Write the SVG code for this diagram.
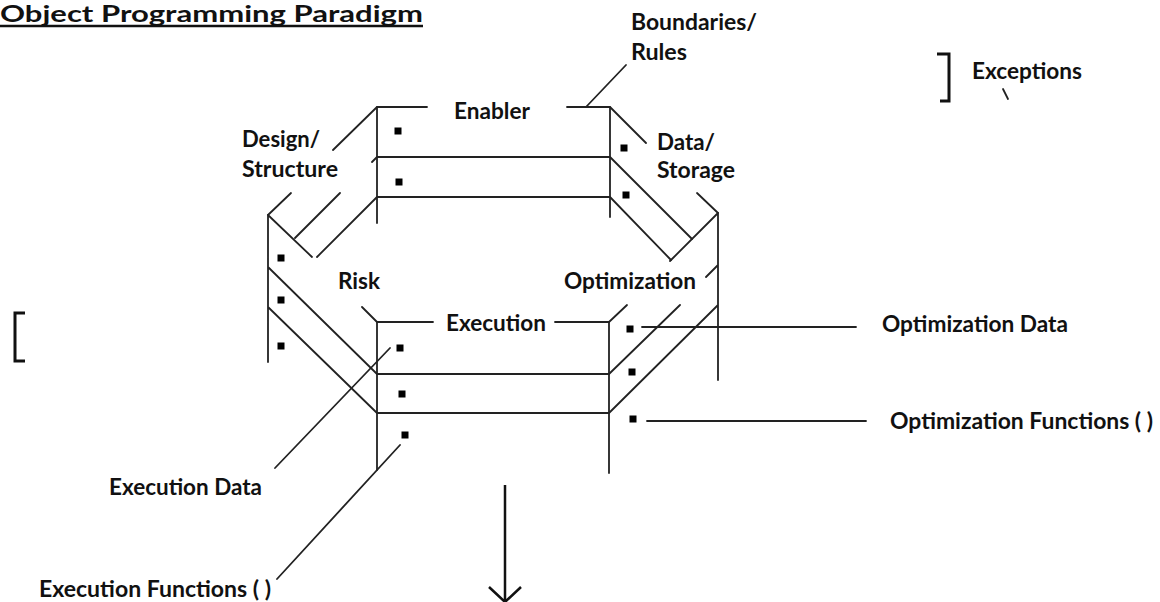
<svg xmlns="http://www.w3.org/2000/svg" width="1160" height="602" viewBox="0 0 1160 602">
<style>
.ln{stroke:#222;stroke-width:1.8;fill:none;stroke-linecap:round}
.th{stroke:#111;stroke-width:3;fill:none}
.dot{fill:#000}
text{font-family:Lato,"Noto Sans","Liberation Sans",sans-serif;font-weight:bold;font-size:22px;fill:#111}
</style>
<rect width="1160" height="602" fill="#fff"/>
<g id="title">
<text x="0" y="22" font-size="22" textLength="423" lengthAdjust="spacingAndGlyphs">Object Programming Paradigm</text>
<line x1="0" y1="26" x2="423" y2="26" stroke="#111" stroke-width="2.5"/>
</g>
<g id="enabler">
<path class="ln" d="M377,107H427M567,107H610M377,157H610M377,197H610M377,107V223M610,107V217"/>
<text x="454" y="119" textLength="76" lengthAdjust="spacingAndGlyphs">Enabler</text>
<rect class="dot" x="394.5" y="127.5" width="7" height="7"/>
<rect class="dot" x="395.5" y="178.5" width="7" height="7"/>
</g>
<g id="boundaries">
<text x="631" y="30" textLength="126" lengthAdjust="spacingAndGlyphs">Boundaries/</text>
<text x="631" y="60" textLength="56" lengthAdjust="spacingAndGlyphs">Rules</text>
</g>
<g id="design">
<path class="ln" d="M377,107L333,150M291,193L268,215M377,157L372,162M340,193L295,238M377,197L317,257"/>
<text x="242" y="147" textLength="78" lengthAdjust="spacingAndGlyphs">Design/</text>
<text x="242" y="177" textLength="96" lengthAdjust="spacingAndGlyphs">Structure</text>
</g>
<g id="risk">
<path class="ln" d="M268,215V362M268,215L312,257M362,307L377,322M268,267L377,374M268,307L377,413"/>
<text x="338" y="289" textLength="42" lengthAdjust="spacingAndGlyphs">Risk</text>
<rect class="dot" x="277.5" y="254.5" width="7" height="7"/>
<rect class="dot" x="277.5" y="296.5" width="7" height="7"/>
<rect class="dot" x="277.5" y="342.5" width="7" height="7"/>
</g>
<g id="execution">
<path class="ln" d="M377,322H433M555,322H609M377,374H609M377,413H609M377,322V470M609,322V473"/>
<text x="446" y="331" textLength="100" lengthAdjust="spacingAndGlyphs">Execution</text>
<rect class="dot" x="396.5" y="344.5" width="7" height="7"/>
<rect class="dot" x="398.5" y="390.5" width="7" height="7"/>
<rect class="dot" x="401.5" y="431.5" width="7" height="7"/>
</g>
<g id="data">
<path class="ln" d="M610,107L646,143M697,193L718,213M610,157L692,239M610,197L671,260"/>
<text x="657" y="150" textLength="58" lengthAdjust="spacingAndGlyphs">Data/</text>
<text x="657" y="178" textLength="78" lengthAdjust="spacingAndGlyphs">Storage</text>
<rect class="dot" x="620.5" y="144.5" width="7" height="7"/>
<rect class="dot" x="622.5" y="191.5" width="7" height="7"/>
</g>
<g id="optimization">
<path class="ln" d="M718,213V380M609,322L627,305M670,261L718,213M609,374L680,305M706,277L718,265M609,413L718,305"/>
<text x="564" y="289" textLength="132" lengthAdjust="spacingAndGlyphs">Optimization</text>
<rect class="dot" x="626.5" y="325.5" width="7" height="7"/>
<rect class="dot" x="628.5" y="368.5" width="7" height="7"/>
<rect class="dot" x="629.5" y="415.5" width="7" height="7"/>
</g>
<g id="exceptions">
<polyline class="th" points="937,54 949,54 949,101 940,101"/>
<text x="972" y="79" textLength="110" lengthAdjust="spacingAndGlyphs">Exceptions</text>
<line class="ln" x1="1003" y1="89" x2="1008" y2="99"/>
</g>
<g id="left-bracket">
<polyline class="th" points="25,313 15,313 15,361 25,361"/>
</g>
<g id="labels">
<text x="882" y="332" textLength="186" lengthAdjust="spacingAndGlyphs">Optimization Data</text>
<text x="890" y="429" textLength="263" lengthAdjust="spacingAndGlyphs">Optimization Functions ( )</text>
<text x="109" y="495" textLength="153" lengthAdjust="spacingAndGlyphs">Execution Data</text>
<text x="39" y="597" textLength="232" lengthAdjust="spacingAndGlyphs">Execution Functions ( )</text>
</g>
<g id="connectors">
<path class="ln" d="M586,107L626,65"/>
<path class="ln" d="M390,348L275,468"/>
<path class="ln" d="M400,445L277,579"/>
<path class="ln" d="M642,327H856"/>
<path class="ln" d="M647,421H866"/>
<path d="M505,485V601M489,587L505,602L521,587" stroke="#111" stroke-width="2.5" fill="none"/>
</g>
</svg>
